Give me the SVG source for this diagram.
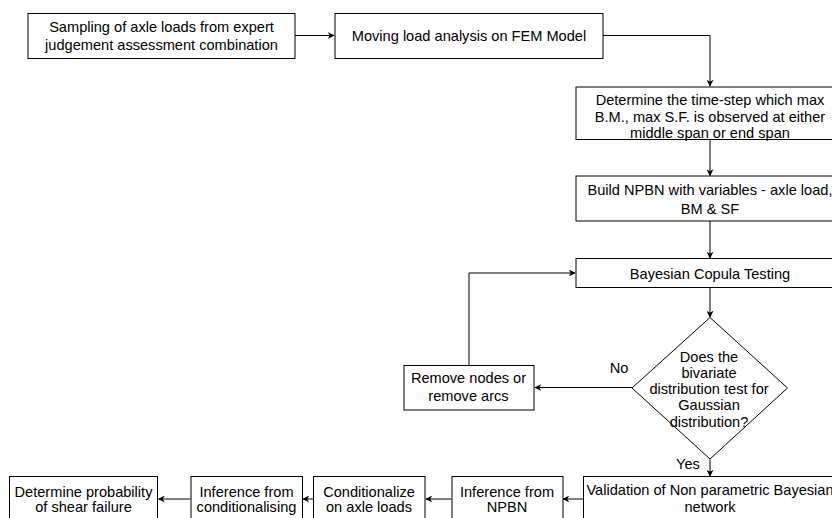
<svg xmlns="http://www.w3.org/2000/svg" width="832" height="518" viewBox="0 0 832 518">
<style>
.box{fill:#fff;stroke:#000;stroke-width:1}
.t{font-family:"Liberation Sans",Arial,sans-serif;font-size:14.6px;fill:#000;text-anchor:middle}
.c{fill:none;stroke:#000;stroke-width:1}
</style>
<defs>
<marker id="ah" viewBox="0 0 10 10" refX="9" refY="5" markerWidth="7" markerHeight="7" markerUnits="userSpaceOnUse" orient="auto">
<path d="M0,0 L10,5 L0,10 L3,5 Z" fill="#000"/>
</marker>
</defs>
<rect width="832" height="518" fill="#fff"/>
<g id="connectors">
<path class="c" d="M295,35.5 H334" marker-end="url(#ah)"/>
<path class="c" d="M603,35.5 H710 V86" marker-end="url(#ah)"/>
<path class="c" d="M710,139.5 V175.5" marker-end="url(#ah)"/>
<path class="c" d="M710,221 V258" marker-end="url(#ah)"/>
<path class="c" d="M710,287.5 V317" marker-end="url(#ah)"/>
<path class="c" d="M632,387.5 H535" marker-end="url(#ah)"/>
<path class="c" d="M469,365 V273 H575" marker-end="url(#ah)"/>
<path class="c" d="M710,459.5 V476" marker-end="url(#ah)"/>
<path class="c" d="M583,499 H563" marker-end="url(#ah)"/>
<path class="c" d="M451.5,499 H426" marker-end="url(#ah)"/>
<path class="c" d="M313,499 H303" marker-end="url(#ah)"/>
<path class="c" d="M190.5,499 H158.5" marker-end="url(#ah)"/>
<text class="t" x="619" y="373">No</text>
<text class="t" x="688" y="469">Yes</text>
</g>
<g id="n1">
<rect class="box" x="28" y="13.5" width="267" height="45"/>
<text class="t" x="161.5" y="32">Sampling of axle loads from expert</text>
<text class="t" x="161.5" y="49.5">judgement assessment combination</text>
</g>
<g id="n2">
<rect class="box" x="335" y="13.5" width="268" height="45"/>
<text class="t" x="469" y="41">Moving load analysis on FEM Model</text>
</g>
<g id="n3">
<rect class="box" x="576" y="87" width="268" height="52.5"/>
<text class="t" x="710" y="105">Determine the time-step which max</text>
<text class="t" x="710" y="122">B.M., max S.F. is observed at either</text>
<text class="t" x="710" y="138">middle span or end span</text>
</g>
<g id="n4">
<rect class="box" x="576" y="176" width="268" height="45"/>
<text class="t" x="710" y="195">Build NPBN with variables - axle load,</text>
<text class="t" x="710" y="214">BM &amp; SF</text>
</g>
<g id="n5">
<rect class="box" x="576" y="258.5" width="268" height="29"/>
<text class="t" x="710" y="278.5">Bayesian Copula Testing</text>
</g>
<g id="n6">
<path class="box" d="M710,317.5 L787.5,388 L710,459 L632,388 Z"/>
<text class="t" x="709" y="361.5">Does the</text>
<text class="t" x="709" y="377.5">bivariate</text>
<text class="t" x="709" y="393.5">distribution test for</text>
<text class="t" x="709" y="410">Gaussian</text>
<text class="t" x="709" y="426.5">distribution?</text>
</g>
<g id="n7">
<rect class="box" x="404" y="365.5" width="130" height="44.5"/>
<text class="t" x="468.5" y="383">Remove nodes or</text>
<text class="t" x="468.5" y="401">remove arcs</text>
</g>
<g id="n8">
<rect class="box" x="583.5" y="476.5" width="268" height="60"/>
<text class="t" x="710" y="495">Validation of Non parametric Bayesian</text>
<text class="t" x="710" y="512">network</text>
</g>
<g id="n9">
<rect class="box" x="452" y="476.5" width="111" height="60"/>
<text class="t" x="507" y="496.5">Inference from</text>
<text class="t" x="507" y="512">NPBN</text>
</g>
<g id="n10">
<rect class="box" x="313.5" y="476.5" width="111.5" height="60"/>
<text class="t" x="369" y="496.5">Conditionalize</text>
<text class="t" x="369" y="512">on axle loads</text>
</g>
<g id="n11">
<rect class="box" x="191" y="476.5" width="111.5" height="60"/>
<text class="t" x="246.5" y="496.5">Inference from</text>
<text class="t" x="246.5" y="512">conditionalising</text>
</g>
<g id="n12">
<rect class="box" x="9.5" y="476.5" width="148" height="60"/>
<text class="t" x="83.5" y="496.5">Determine probability</text>
<text class="t" x="83.5" y="512">of shear failure</text>
</g>
</svg>
